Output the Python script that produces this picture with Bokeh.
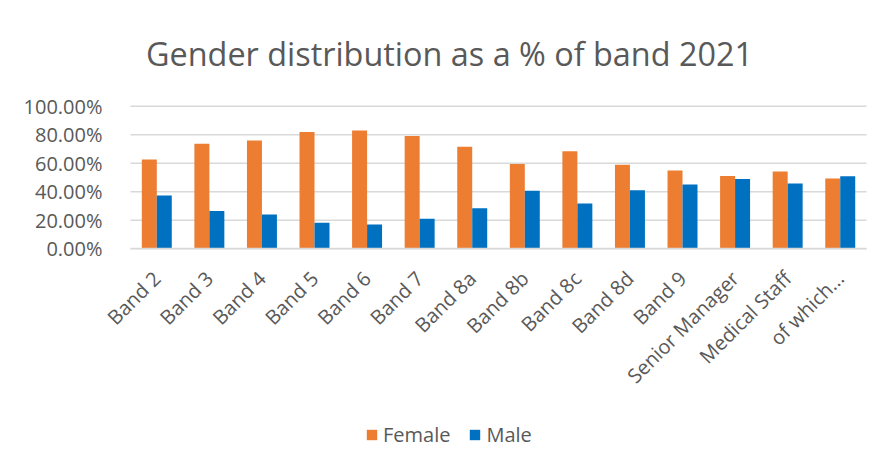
from bokeh.plotting import figure
from bokeh.models import (ColumnDataSource, Range1d, NumeralTickFormatter, Legend, LegendItem,
                          FixedTicker, Label)
from bokeh.embed import file_html
from bokeh.resources import INLINE
import numpy as np
import math

categories = ["Band 2", "Band 3", "Band 4", "Band 5", "Band 6", "Band 7", "Band 8a",
              "Band 8b", "Band 8c", "Band 8d", "Band 9", "Senior Manager", "Medical Staff",
              "of which..."]
female = [0.626, 0.736, 0.760, 0.818, 0.830, 0.790, 0.716, 0.594, 0.683, 0.590, 0.549,
          0.510, 0.542, 0.492]
male = [0.374, 0.264, 0.240, 0.182, 0.170, 0.210, 0.284, 0.406, 0.317, 0.410, 0.451,
        0.490, 0.458, 0.508]
y_ticks = [0.0, 0.2, 0.4, 0.6, 0.8, 1.0]
title_text = "Gender distribution as a % of band 2021"

FONT = "Open Sans"
TXT = "#595959"
GRID = "#d9d9d9"

n = len(categories)
pos = np.arange(n)
BW = 0.285
src = ColumnDataSource(dict(cat=categories, pos=pos, female=female, male=male,
                            xf=pos - BW / 2, xm=pos + BW / 2))

# the frame covers the whole canvas so that rotated labels, title and legend are never clipped
p = figure(frame_width=882, frame_height=468,
           x_range=Range1d(-2.973, 13.804), y_range=Range1d(-1.541, 1.741),
           output_backend="svg", toolbar_location=None,
           min_border_left=0, min_border_right=0, min_border_top=0, min_border_bottom=0)

p.outline_line_color = None
p.background_fill_color = "white"
p.border_fill_color = "white"
p.xgrid.grid_line_color = None
p.ygrid.grid_line_color = None

# horizontal gridlines across the category area
p.segment(x0=-0.5, x1=n - 0.5, y0=y_ticks, y1=y_ticks, line_color=GRID, line_width=1.5)

r1 = p.vbar(x="xf", top="female", width=BW, source=src,
            fill_color="#ED7D31", line_color=None)
r2 = p.vbar(x="xm", top="male", width=BW, source=src,
            fill_color="#0070C0", line_color=None)

p.yaxis.fixed_location = -0.5
p.yaxis.ticker = FixedTicker(ticks=y_ticks)
p.yaxis.formatter = NumeralTickFormatter(format="0.00%")
p.yaxis.axis_line_color = None
p.yaxis.major_tick_line_color = None
p.yaxis.minor_tick_line_color = None
p.yaxis.major_label_text_font = FONT
p.yaxis.major_label_text_font_size = "20px"
p.yaxis.major_label_text_color = TXT
p.yaxis.major_label_standoff = 22

p.xaxis.fixed_location = 0
p.xaxis.bounds = (-0.5, n - 0.5)
p.xaxis.ticker = FixedTicker(ticks=list(pos))
p.xaxis.major_label_overrides = {int(i): c for i, c in zip(pos, categories)}
p.xaxis.axis_line_color = GRID
p.xaxis.axis_line_width = 1.5
p.xaxis.major_tick_line_color = None
p.xaxis.minor_tick_line_color = None
p.xaxis.major_label_orientation = math.pi / 4
p.xaxis.major_label_text_font = FONT
p.xaxis.major_label_text_font_size = "20px"
p.xaxis.major_label_text_color = TXT
p.xaxis.major_label_standoff = 20

title = Label(x=449, y=416, x_units="screen", y_units="screen", text=title_text,
              text_align="center", text_baseline="alphabetic",
              text_font=FONT, text_font_size="32.4px", text_color=TXT)
p.add_layout(title)

legend = Legend(items=[LegendItem(label="Female", renderers=[r1]),
                       LegendItem(label="Male", renderers=[r2])],
                orientation="horizontal", location=(365, 20),
                label_text_font=FONT, label_text_font_size="20px", label_text_color=TXT,
                glyph_width=13, glyph_height=13, spacing=18, border_line_color=None,
                background_fill_alpha=0, margin=0, padding=4)
p.add_layout(legend, "center")

open("out.html", "w").write(file_html(p, INLINE))
